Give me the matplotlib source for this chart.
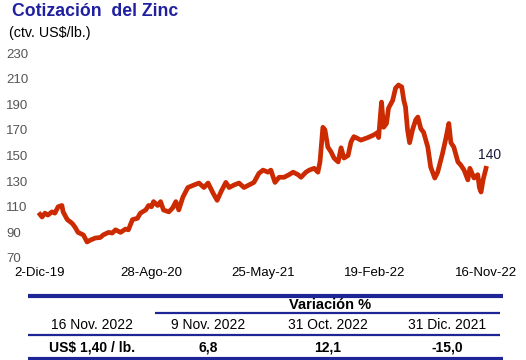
import numpy as np
import pandas as pd
import matplotlib
matplotlib.use("Agg")
import matplotlib.pyplot as plt
from matplotlib.lines import Line2D

plt.rcParams['font.family'] = ['Liberation Sans', 'DejaVu Sans']

# zinc price, ctv. US$/lb
fechas = [
    "2019-12-02", "2019-12-07", "2019-12-14", "2019-12-21", "2019-12-31",
    "2020-01-07", "2020-01-15", "2020-01-24", "2020-01-27", "2020-02-06",
    "2020-02-18", "2020-02-25", "2020-03-03", "2020-03-16", "2020-03-25",
    "2020-04-02", "2020-04-14", "2020-04-26", "2020-05-03", "2020-05-16",
    "2020-05-25", "2020-06-02", "2020-06-14", "2020-06-26", "2020-07-03",
    "2020-07-13", "2020-07-25", "2020-08-01", "2020-08-14", "2020-08-21",
    "2020-08-28", "2020-09-02", "2020-09-12", "2020-09-19", "2020-09-26",
    "2020-10-09", "2020-10-18", "2020-10-26", "2020-11-02", "2020-11-12",
    "2020-11-24", "2020-12-09", "2020-12-21", "2021-01-02", "2021-01-12",
    "2021-01-24", "2021-02-03", "2021-02-12", "2021-02-24", "2021-03-04",
    "2021-03-16", "2021-03-28", "2021-04-09", "2021-04-21", "2021-05-03",
    "2021-05-15", "2021-05-25", "2021-06-06", "2021-06-13", "2021-06-23",
    "2021-07-03", "2021-07-15", "2021-07-27", "2021-08-06", "2021-08-18",
    "2021-08-25", "2021-09-06", "2021-09-14", "2021-09-26", "2021-10-05",
    "2021-10-10", "2021-10-17", "2021-10-22", "2021-10-29", "2021-11-06",
    "2021-11-13", "2021-11-23", "2021-11-30", "2021-12-07", "2021-12-17",
    "2021-12-24", "2021-12-31", "2022-01-05", "2022-01-17", "2022-02-03",
    "2022-02-17", "2022-02-27", "2022-03-01", "2022-03-08", "2022-03-13",
    "2022-03-20", "2022-03-25", "2022-04-04", "2022-04-11", "2022-04-18",
    "2022-04-26", "2022-05-01", "2022-05-05", "2022-05-10", "2022-05-15",
    "2022-05-22", "2022-05-30", "2022-06-04", "2022-06-11", "2022-06-18",
    "2022-06-28", "2022-07-05", "2022-07-15", "2022-07-22", "2022-08-03",
    "2022-08-11", "2022-08-18", "2022-08-23", "2022-08-30", "2022-09-09",
    "2022-09-16", "2022-09-24", "2022-10-03", "2022-10-08", "2022-10-18",
    "2022-10-27", "2022-10-31", "2022-11-04", "2022-11-09", "2022-11-16",
]
precio = [
    104, 102, 105, 103.5, 106,
    105, 110, 111, 106, 100,
    97, 94, 90, 88, 82.5,
    84, 85.6, 86, 88, 90,
    89.5, 92, 90, 92.6, 92,
    100, 101, 105, 107.5, 111,
    110, 114, 111, 114, 107.5,
    106, 109, 114, 107.5, 117.5,
    125, 127, 128.5, 125, 128.5,
    120.7, 115, 121.5, 129, 125,
    127, 128.5, 125, 127, 129,
    136, 138.6, 137, 138.6, 129,
    133, 133, 135, 137, 135,
    133, 137, 138.6, 140, 137,
    145, 172, 170, 156.6, 152.7,
    148, 145, 156, 148, 150,
    160.5, 164.7, 164, 162, 164,
    166, 168, 164, 191.7, 172,
    175, 187, 193, 202.6, 205,
    203.5, 193, 188, 170, 160,
    170, 178, 180, 171, 168,
    156.6, 141, 132.4, 137, 152,
    163.6, 175, 160, 156.6, 145,
    142.5, 138.6, 131, 140, 132.4,
    135, 125, 121.5, 131, 140,
]

tick_fechas = ["2019-12-02", "2020-08-28", "2021-05-25", "2022-02-19", "2022-11-16"]
tick_labels = ["2-Dic-19", "28-Ago-20", "25-May-21", "19-Feb-22", "16-Nov-22"]
y_ticks = [70, 90, 110, 130, 150, 170, 190, 210, 230]

cabecera = ["16 Nov. 2022", "9 Nov. 2022", "31 Oct. 2022", "31 Dic. 2021"]
fila = ["US$ 1,40 / lb.", "6,8", "12,1", "-15,0"]

W, H = 526, 360
azul = '#1e2596'

def fx(x):
    return x / W

def fy(y):
    return 1 - y / H

fig = plt.figure(figsize=(W / 100, H / 100), dpi=100)
ax = fig.add_axes([fx(40), fy(258), fx(486) - fx(40), fy(53) - fy(258)])

x = pd.to_datetime(fechas)
ax.plot(x, precio, color='#cc2a00', lw=3.4, solid_joinstyle='round', clip_on=False)

ax.set_xlim(pd.Timestamp(tick_fechas[0]), pd.Timestamp(tick_fechas[-1]))
ax.set_ylim(70, 230)
ax.set_xticks(pd.to_datetime(tick_fechas))
ax.set_xticklabels(tick_labels, fontsize=9.5, color='black')
ax.set_yticks(y_ticks)
ax.set_yticklabels([str(v) for v in y_ticks], fontsize=9.5, color='#555555', ha='left')
ax.tick_params(axis='y', length=0, pad=34 * 0.72)
ax.tick_params(axis='x', length=0, pad=6.5)
for s in ax.spines.values():
    s.set_visible(False)

fig.text(fx(490), fy(155), "140", fontsize=10, color='#1a1a3a', ha='center', va='center')

fig.text(fx(12), fy(11), "Cotización  del Zinc", fontsize=12.7, fontweight='bold',
         color='#1f1fa0', ha='left', va='center')
fig.text(fx(9), fy(33), "(ctv. US$/lb.)", fontsize=10.3, color='black', ha='left', va='center')

# table
def hline(y, x0, x1, lw):
    fig.add_artist(Line2D([fx(x0), fx(x1)], [fy(y), fy(y)], transform=fig.transFigure,
                          color=azul, lw=lw, solid_capstyle='butt'))

hline(295.5, 28, 503, 3)
hline(313, 155, 500, 1.6)
hline(335, 28, 500, 1.6)
hline(358.5, 28, 503, 3)

fig.text(fx(330), fy(305), "Variación %", fontsize=10.5, fontweight='bold', ha='center', va='center')
col_x = [92, 208, 328, 447]
for cx, t in zip(col_x, cabecera):
    fig.text(fx(cx), fy(325), t, fontsize=10, ha='center', va='center')
for cx, t in zip(col_x, fila):
    fig.text(fx(cx), fy(347), t, fontsize=10, fontweight='bold', ha='center', va='center')

fig.savefig("out.png", dpi=100)
